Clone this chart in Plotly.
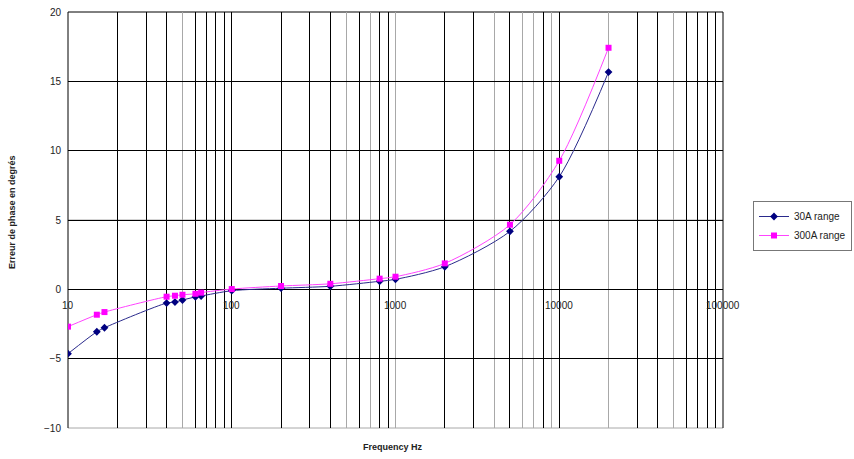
import numpy as np
import plotly.graph_objects as go

# Measurement frequencies (Hz) and phase error (degrees) for the two ranges
freq_hz = [10, 15, 16.7, 40, 45, 50, 60, 65, 100, 200, 400, 800, 1000, 2000, 5000, 10000, 20000]
err_30a = [-4.64, -3.06, -2.77, -0.99, -0.92, -0.77, -0.55, -0.48, -0.10, 0.08, 0.22, 0.58, 0.72, 1.63, 4.18, 8.12, 15.67]
err_300a = [-2.69, -1.83, -1.64, -0.53, -0.46, -0.39, -0.32, -0.24, 0.02, 0.24, 0.40, 0.77, 0.91, 1.87, 4.66, 9.27, 17.42]

x_tick_labels = [10, 100, 1000, 10000, 100000]
y_tick_vals = [-10, -5, 0, 5, 10, 15, 20]

# Vertical grid lines: dark ones and the lighter ones
grid_dark = [10, 20, 30, 40, 60, 70, 80, 90, 100, 200, 300, 400, 600, 800, 900,
             2000, 3000, 5000, 8000, 10000, 30000, 40000, 60000, 70000, 80000, 90000, 100000]
grid_light = [50, 500, 700, 1000, 4000, 6000, 7000, 9000, 20000, 50000]

FONT = "Liberation Sans, Arial, sans-serif"

fig = go.Figure()
fig.add_trace(go.Scatter(
    x=freq_hz, y=err_30a, name="30A range", mode="lines+markers",
    line=dict(color="#2a2a8c", width=1, shape="spline", smoothing=0.8),
    marker=dict(symbol="diamond", size=6, color="#000080"),
))
fig.add_trace(go.Scatter(
    x=freq_hz, y=err_300a, name="300A range", mode="lines+markers",
    line=dict(color="#ff44ff", width=1, shape="spline", smoothing=0.8),
    marker=dict(symbol="square", size=6, color="#FF00FF"),
))

fig.update_xaxes(
    type="log", range=[1, 5],
    tickmode="array", tickvals=grid_dark, showticklabels=False, ticks="",
    showgrid=True, gridcolor="#000000", gridwidth=1,
    minor=dict(tickmode="array", tickvals=grid_light, showgrid=True,
               gridcolor="#a8a8a8", gridwidth=1, ticks=""),
    showline=False, zeroline=False,
)
fig.update_yaxes(
    range=[-10, 20], tickmode="array", tickvals=y_tick_vals,
    ticks="", ticklabelstandoff=6,
    tickfont=dict(family=FONT, size=10, color="#222222"),
    showgrid=True, gridcolor="#000000", gridwidth=1,
    showline=False, zeroline=False,
)

# x tick labels sit just below the y = 0 line
for v in x_tick_labels:
    fig.add_annotation(x=np.log10(v), y=0, xref="x", yref="y", text=str(v),
                       showarrow=False, yanchor="top", yshift=-9,
                       font=dict(family=FONT, size=10, color="#222222"))

# lighter horizontal line at +5 and plot border
fig.add_shape(type="line", xref="paper", yref="y", x0=0, x1=1, y0=5, y1=5,
              line=dict(color="#a8a8a8", width=1), layer="between")
fig.add_shape(type="line", xref="paper", yref="paper", x0=0, x1=1, y0=0, y1=0,
              line=dict(color="#a8a8a8", width=1), layer="between")
fig.add_shape(type="line", xref="paper", yref="paper", x0=0, x1=1, y0=1, y1=1,
              line=dict(color="#000000", width=1), layer="between")
fig.add_shape(type="line", xref="paper", yref="paper", x0=0, x1=0, y0=0, y1=1,
              line=dict(color="#000000", width=1), layer="between")
fig.add_shape(type="line", xref="paper", yref="paper", x0=1, x1=1, y0=0, y1=1,
              line=dict(color="#000000", width=1), layer="between")

# axis titles
fig.add_annotation(x=(393 - 68) / 655, y=(428 - 447) / 416, xref="paper", yref="paper",
                   xanchor="center", yanchor="middle", text="<b>Frequency Hz</b>",
                   showarrow=False, font=dict(family=FONT, size=9, color="#222222"))
fig.add_annotation(text="<b>Erreur de phase en degrés</b>", textangle=-90,
                   xref="paper", yref="paper", x=(12 - 68) / 655, y=(428 - 212) / 416,
                   xanchor="center", yanchor="middle", showarrow=False,
                   font=dict(family=FONT, size=9, color="#222222"))

fig.update_layout(
    width=854, height=459,
    margin=dict(l=68, r=131, t=12, b=31, autoexpand=False),
    paper_bgcolor="white", plot_bgcolor="white",
    showlegend=True,
    legend=dict(x=(753 - 68) / 655, y=(428 - 201) / 416, xanchor="left", yanchor="top",
                bordercolor="#777777", borderwidth=1, bgcolor="white",
                font=dict(family=FONT, size=10, color="#222222"),
                itemwidth=30, tracegroupgap=0),
)

fig.write_html("out.html")
